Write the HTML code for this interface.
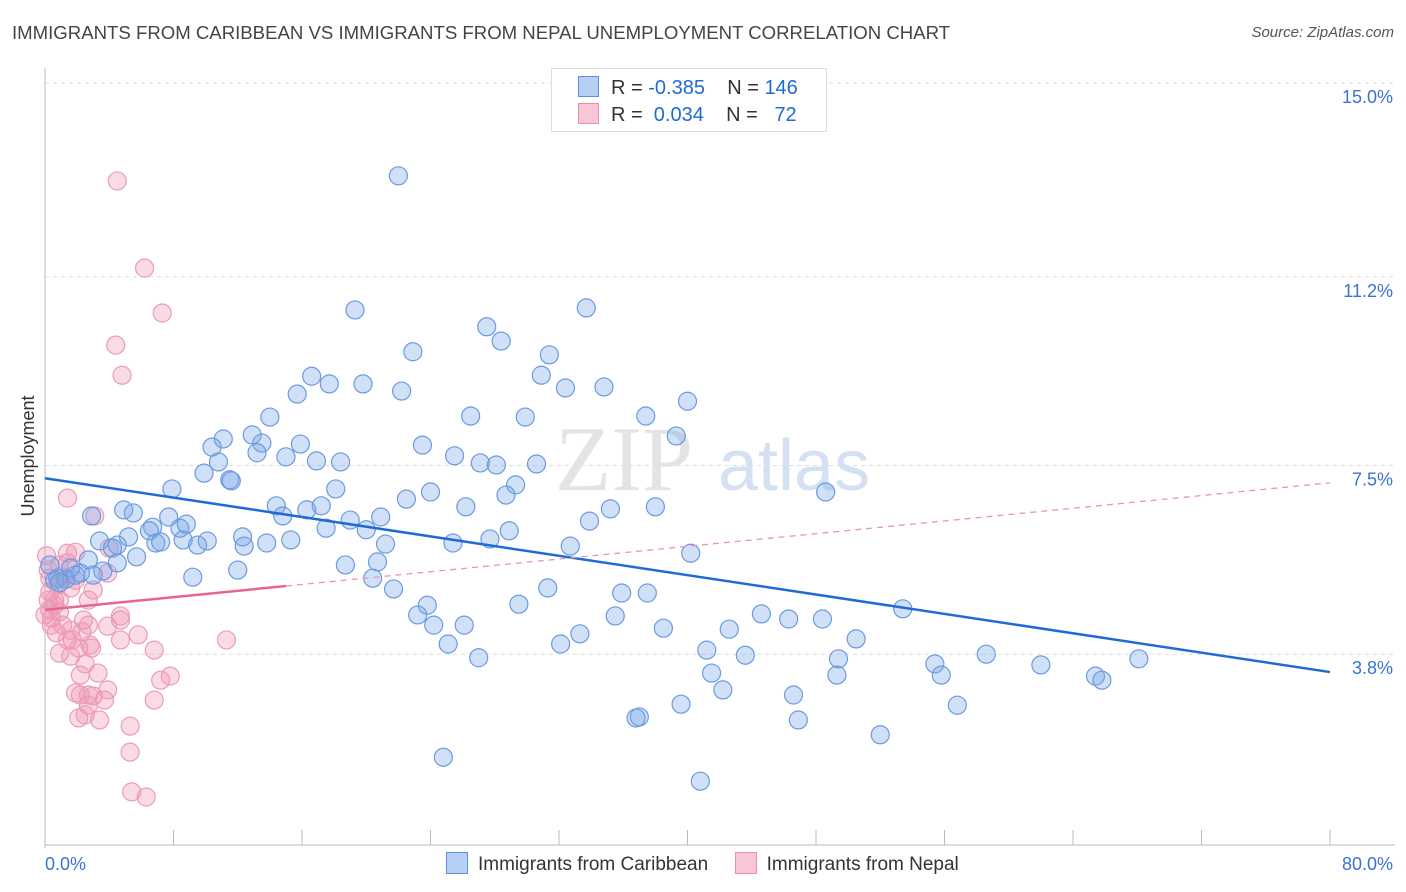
<!DOCTYPE html>
<html><head><meta charset="utf-8"><style>
body{margin:0;background:#fff;font-family:"Liberation Sans",sans-serif;}
#wrap{position:relative;width:1406px;height:892px;overflow:hidden;}
</style></head><body>
<div id="wrap">
<div style="position:absolute;left:12px;top:22px;font-size:18.6px;color:#444;">IMMIGRANTS FROM CARIBBEAN VS IMMIGRANTS FROM NEPAL UNEMPLOYMENT CORRELATION CHART</div>
<div style="position:absolute;right:12px;top:24px;font-size:15px;color:#555;font-style:italic;">Source: ZipAtlas.com</div>
<svg id="chart" width="1406" height="892" style="position:absolute;left:0;top:0"></svg>
</div>
<script>
const blueX=[22.0,19.3,33.7,27.5,28.4,22.9,31.4,30.9,16.6,17.7,19.8,32.4,34.8,22.2,15.7,40.0,14.0,26.5,29.9,37.4,12.9,39.3,11.1,10.4,13.5,15.9,23.5,13.2,15.0,25.5,10.8,16.9,18.4,27.1,28.1,30.6,9.9,11.5,11.6,7.9,18.1,29.3,48.6,22.5,24.0,28.7,14.4,16.3,17.2,26.2,35.2,38.0,4.9,2.9,5.5,14.8,7.7,19.0,20.9,33.9,6.7,8.4,8.8,6.5,17.5,20.0,28.9,5.2,12.3,3.4,6.9,7.2,8.6,10.1,13.8,15.3,27.7,4.5,4.2,9.5,12.4,21.2,25.4,32.7,5.7,2.7,40.2,4.5,18.7,20.7,3.6,2.2,12.0,0.8,9.2,20.4,1.3,21.7,31.3,35.9,37.5,23.8,29.5,53.4,23.2,35.5,44.6,46.3,48.4,24.2,26.1,38.5,42.6,33.3,50.5,25.1,32.1,41.2,43.6,58.6,68.1,27.0,49.4,55.4,62.0,41.5,49.3,55.8,65.4,65.8,42.2,46.6,39.6,56.8,37.0,36.8,46.9,52.0,24.8,40.8,0.6,1.6,0.9,1.9,0.3,3.0];
const blueY=[13.18,10.55,10.59,10.22,9.94,9.73,9.67,9.27,9.25,9.10,9.10,9.02,9.04,8.96,8.90,8.76,8.45,8.47,8.45,8.47,8.10,8.08,8.02,7.86,7.94,7.92,7.90,7.75,7.67,7.69,7.57,7.59,7.57,7.55,7.51,7.53,7.35,7.22,7.20,7.04,7.04,7.12,6.98,6.84,6.98,6.92,6.71,6.63,6.71,6.69,6.65,6.69,6.63,6.51,6.57,6.51,6.49,6.43,6.49,6.41,6.29,6.27,6.35,6.22,6.27,6.24,6.22,6.10,6.10,6.02,5.98,6.00,6.04,6.02,5.98,6.04,6.06,5.94,5.88,5.94,5.92,5.96,5.98,5.92,5.71,5.65,5.78,5.59,5.55,5.61,5.43,5.39,5.45,5.29,5.31,5.29,5.27,5.08,5.10,5.00,5.00,4.76,4.78,4.69,4.57,4.55,4.59,4.49,4.49,4.37,4.37,4.31,4.29,4.20,4.10,4.00,4.00,3.88,3.78,3.80,3.71,3.73,3.71,3.61,3.59,3.43,3.39,3.39,3.37,3.29,3.10,3.00,2.82,2.80,2.57,2.55,2.51,2.22,1.78,1.31,5.25,5.49,5.20,5.35,5.55,5.35];
const pinkX=[4.5,6.2,7.3,4.4,4.8,1.4,3.1,0.1,1.4,1.9,1.4,0.9,4.0,3.9,0.3,0.8,1.6,0.3,0.2,0.6,0.9,0.4,1.1,1.6,0.7,2.4,2.7,2.3,1.7,3.9,4.7,5.8,4.7,2.8,2.1,2.9,0.9,1.6,2.5,6.8,11.3,2.2,1.9,2.7,3.0,2.2,2.7,7.2,7.8,6.8,2.1,2.5,3.4,5.3,5.3,5.4,6.3,0.3,0.0,0.4,0.9,1.9,1.2,3.3,3.7,3.9,4.7,1.4,0.6,0.2,2.7,3.0];
const pinkY=[13.08,11.37,10.49,9.86,9.27,6.86,6.51,5.73,5.78,5.80,5.59,5.55,5.88,5.39,5.29,5.16,5.10,5.02,4.86,4.76,4.63,4.51,4.37,4.27,4.22,4.47,4.37,4.24,4.08,4.35,4.47,4.18,4.08,3.98,3.92,3.92,3.82,3.76,3.61,3.88,4.08,3.39,3.04,3.00,2.98,3.00,2.80,3.29,3.37,2.90,2.55,2.61,2.51,2.39,1.88,1.10,1.00,4.67,4.57,4.37,4.86,5.25,5.31,3.43,2.90,3.10,4.55,4.08,4.86,5.45,4.86,5.06];
const yTicks=[15.0,11.2,7.5,3.8];
const yTickLabels=["15.0%","11.2%","7.5%","3.8%"];
const blueTrend=[7.25,3.45];
const pinkTrend=[4.67,7.16];

const NS="http://www.w3.org/2000/svg";
const svg=document.getElementById('chart');
const X0=45,X1=1330,Y0=848;
function sx(v){return X0+v*(X1-X0)/80;}
function sy(v){return 83+(15-v)*51;}
function mk(t,a,parent){const e=document.createElementNS(NS,t);for(const k in a)e.setAttribute(k,a[k]);(parent||svg).appendChild(e);return e;}

let wm=mk('text',{x:555,y:490,'font-size':92,'font-family':'Liberation Serif, serif',fill:'#e4e4e4'});
wm.textContent='ZIP';


let wm2=mk('text',{x:718,y:490,'font-size':72,'font-family':'Liberation Sans, sans-serif',fill:'#d4e1f3'});
wm2.textContent='atlas';



yTicks.forEach((t,i)=>{
  let g=mk('line',{x1:X0,x2:1395,y1:sy(t),y2:sy(t),stroke:'#ddd','stroke-dasharray':'4,4'});
  
  
  let l=mk('text',{x:1393,y:sy(t)+20,'text-anchor':'end','font-size':18,fill:'#3b73d0'});
  l.textContent=yTickLabels[i];
  
  
});
let ax=mk('line',{x1:X0,x2:X0,y1:68,y2:Y0,stroke:'#bbb'});


let bx=mk('line',{x1:X0,x2:1395,y1:845,y2:845,stroke:'#bbb'});


for(let i=0;i<=10;i++){
  let tk=mk('line',{x1:sx(i*8),x2:sx(i*8),y1:830,y2:845,stroke:'#bbb'});
  
  
}
let xl=mk('text',{x:45,y:870,'font-size':18,fill:'#3b73d0'});xl.textContent='0.0%';


let xr=mk('text',{x:1393,y:870,'text-anchor':'end','font-size':18,fill:'#3b73d0'});xr.textContent='80.0%';


let yt=mk('text',{x:34,y:456,'font-size':18,fill:'#333','text-anchor':'middle',transform:'rotate(-90 34 456)'});yt.textContent='Unemployment';



pinkX.forEach((x,i)=>{
  let c=mk('circle',{cx:sx(x),cy:sy(pinkY[i]),r:9,fill:'rgba(242,150,180,0.35)',stroke:'#ea9cb6','stroke-width':1.2});
  
  
});
blueX.forEach((x,i)=>{
  let c=mk('circle',{cx:sx(x),cy:sy(blueY[i]),r:9,fill:'rgba(120,165,230,0.35)',stroke:'#6b9ae0','stroke-width':1.2});
  
  
});
let bl=mk('line',{x1:sx(0),y1:sy(blueTrend[0]),x2:sx(80),y2:sy(blueTrend[1]),stroke:'#1f6bd6','stroke-width':2.5});


const pk=(x)=>pinkTrend[0]+(pinkTrend[1]-pinkTrend[0])*x/80;
let pd=mk('line',{x1:sx(15),y1:sy(pk(15)),x2:sx(80),y2:sy(pk(80)),stroke:'#e895b0','stroke-width':1.3,'stroke-dasharray':'6,5'});


let ps=mk('line',{x1:sx(0),y1:sy(pk(0)),x2:sx(15),y2:sy(pk(15)),stroke:'#e8658f','stroke-width':2.5});


</script>
<div style="position:absolute;left:551px;top:68px;width:274px;height:62px;border:1px solid #ddd;background:#fff;font-size:20px;color:#333;">
 <div style="position:absolute;left:26px;top:7px;white-space:pre;"><span style="display:inline-block;width:19px;height:19px;background:#b7cff3;border:1px solid #5b8fdc;vertical-align:-3px;margin-right:12px;"></span>R = <span style="color:#1f6bd6">-0.385</span>    N = <span style="color:#1f6bd6">146</span></div>
 <div style="position:absolute;left:26px;top:34px;white-space:pre;"><span style="display:inline-block;width:19px;height:19px;background:#f8c6d6;border:1px solid #e891ad;vertical-align:-3px;margin-right:12px;"></span>R =  <span style="color:#1f6bd6">0.034</span>    N =   <span style="color:#1f6bd6">72</span></div>
</div>
<div style="position:absolute;left:446px;top:852px;font-size:19px;color:#333;white-space:pre;"><span><span style="display:inline-block;width:20px;height:20px;background:#b7cff3;border:1px solid #5b8fdc;vertical-align:-4px;margin-right:10px;"></span>Immigrants from Caribbean</span>     <span><span style="display:inline-block;width:20px;height:20px;background:#f8c6d6;border:1px solid #e891ad;vertical-align:-4px;margin-right:10px;"></span>Immigrants from Nepal</span></div>
</body></html>
